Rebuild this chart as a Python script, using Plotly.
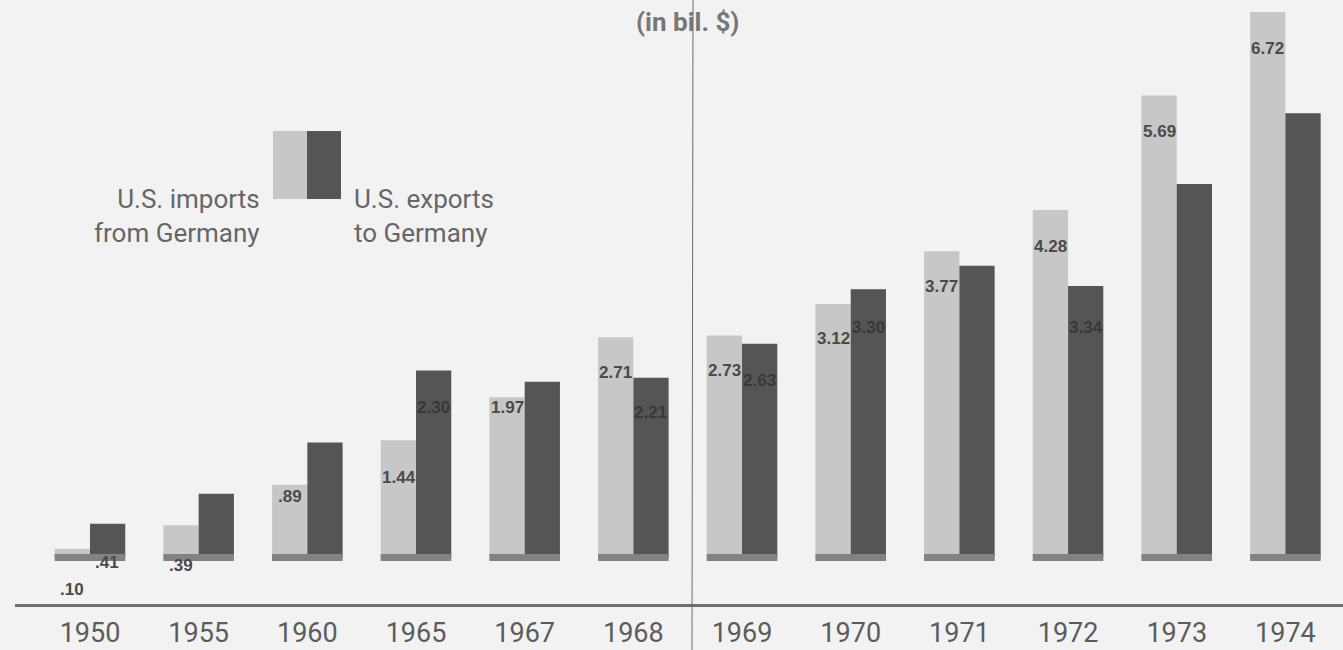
import plotly.graph_objects as go

# ---- data ----
years = ["1950", "1955", "1960", "1965", "1967", "1968",
         "1969", "1970", "1971", "1972", "1973", "1974"]
imports = [0.10, 0.39, 0.89, 1.44, 1.97, 2.71, 2.73, 3.12, 3.77, 4.28, 5.69, 6.72]
exports = [0.41, 0.78, 1.41, 2.30, 2.16, 2.21, 2.63, 3.30, 3.59, 3.34, 4.60, 5.47]
import_labels = [".10", ".39", ".89", "1.44", "1.97", "2.71",
                 "2.73", "3.12", "3.77", "4.28", "5.69", "6.72"]
export_labels = [".41", "", "", "2.30", "", "2.21",
                 "2.63", "3.30", "", "3.34", "", ""]

# ---- label placement (pixel offsets below bar top) ----
import_label_shift = [-41, -40, -12, -37, -10, -35, -35, -35, -35, -37, -36, -36]
export_label_shift = [-39, 0, 0, -37, 0, -35, -37, -38, 0, -41, 0, 0]

LIGHT = "#c7c7c7"
DARK = "#555555"
STRIP = "#828282"
TEXT = "#5c5c5c"
LABEL = "#4a4a4a"
LABEL_ON_DARK = "#383838"
BG = "#f2f2f2"

X_RANGE = [-0.69, 11.53]
Y_RANGE = [-0.58, 6.868]

fig = go.Figure()
fig.add_trace(go.Bar(x=years, y=imports, marker=dict(color=LIGHT, line=dict(width=0)),
                     name="U.S. imports from Germany", showlegend=False, hoverinfo="x+y"))
fig.add_trace(go.Bar(x=years, y=exports, marker=dict(color=DARK, line=dict(width=0)),
                     name="U.S. exports to Germany", showlegend=False, hoverinfo="x+y"))
# decorative base strip under each pair of bars
fig.add_trace(go.Bar(x=years, y=[0.087] * len(years), base=-0.05, width=0.65,
                     marker=dict(color=STRIP, line=dict(width=0)),
                     xaxis="x2", showlegend=False, hoverinfo="skip"))

annotations = []
for i, (v, t, s) in enumerate(zip(imports, import_labels, import_label_shift)):
    if t:
        annotations.append(dict(x=i, y=v, xref="x", yref="y", text=t, showarrow=False,
                                xshift=-17.5, yshift=s,
                                font=dict(family="Liberation Sans", size=17, color=LABEL,
                                          weight="bold"),
                                xanchor="center", yanchor="middle"))
for i, (v, t, s) in enumerate(zip(exports, export_labels, export_label_shift)):
    if t:
        col = LABEL if v < 0.6 else LABEL_ON_DARK
        annotations.append(dict(x=i, y=v, xref="x", yref="y", text=t, showarrow=False,
                                xshift=17.5, yshift=s,
                                font=dict(family="Liberation Sans", size=17, color=col,
                                          weight="bold"),
                                xanchor="center", yanchor="middle"))

leg_font = dict(family="Roboto", size=26, color="#666666")
annotations += [
    dict(xref="paper", yref="paper", x=(687 - 15) / 1328, y=1.0, yanchor="top",
         xanchor="center", text="(in bil. $)", showarrow=False, yshift=-5,
         font=dict(family="Roboto", size=26, color="#777777", weight="bold")),
    dict(xref="paper", yref="paper", x=(262 - 15) / 1328, y=(604 - 216) / 604,
         xanchor="right", yanchor="middle", align="right", showarrow=False,
         text="U.S. imports<br>from Germany", font=leg_font),
    dict(xref="paper", yref="paper", x=(352 - 15) / 1328, y=(604 - 216) / 604,
         xanchor="left", yanchor="middle", align="left", showarrow=False,
         text="U.S. exports<br>to Germany", font=leg_font),
]

shapes = [
    # legend swatches
    dict(type="rect", xref="paper", yref="paper", x0=(273 - 15) / 1328, x1=(307 - 15) / 1328,
         y0=(604 - 199) / 604, y1=(604 - 131) / 604, fillcolor=LIGHT, line=dict(width=0)),
    dict(type="rect", xref="paper", yref="paper", x0=(307 - 15) / 1328, x1=(341 - 15) / 1328,
         y0=(604 - 199) / 604, y1=(604 - 131) / 604, fillcolor=DARK, line=dict(width=0)),
    # page fold
    dict(type="line", xref="paper", yref="paper", x0=(693 - 15) / 1328, x1=(692 - 15) / 1328,
         y0=1.0, y1=-46 / 604, line=dict(color="#6a6a6a", width=1), layer="above"),
]

fig.update_layout(
    width=1343, height=650,
    margin=dict(l=15, r=0, t=0, b=46, autoexpand=False),
    paper_bgcolor=BG, plot_bgcolor=BG,
    barmode="group", bargap=0.351, bargroupgap=0,
    xaxis=dict(type="category", categoryorder="array", categoryarray=years, range=X_RANGE,
               showgrid=False, zeroline=False, showline=True, linecolor="#707070", linewidth=3,
               ticks="", ticklabelstandoff=3, automargin=False,
               tickfont=dict(family="Roboto", size=27, color=TEXT)),
    xaxis2=dict(type="category", categoryorder="array", categoryarray=years, range=X_RANGE,
                overlaying="x", showgrid=False, zeroline=False, showticklabels=False,
                visible=False),
    yaxis=dict(range=Y_RANGE, visible=False, showgrid=False, zeroline=False, automargin=False),
    annotations=annotations, shapes=shapes,
)

fig.write_html("out.html",
               config={"displayModeBar": False},
               post_script="document.body.style.margin='0';"
                           "document.body.style.overflow='hidden';"
                           "document.body.style.background='" + BG + "';")
